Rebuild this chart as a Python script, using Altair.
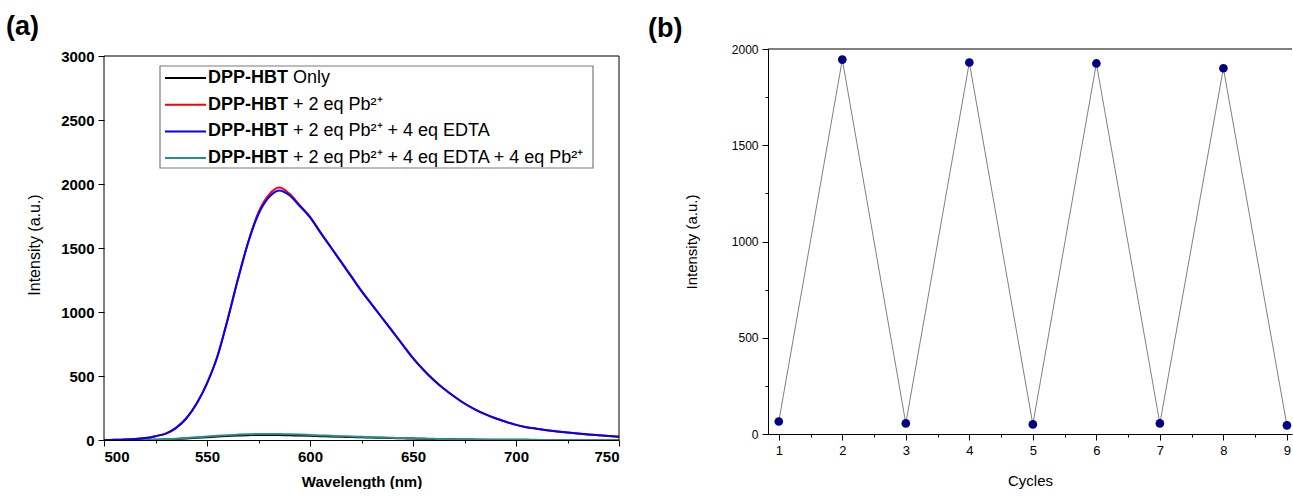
import altair as alt
import pandas as pd

FONT = "Liberation Sans"

# ---------------- data: panel (a) ----------------
wavelength = list(range(500, 751, 5))
only = [0, 0, 0, 0, 1, 2, 5, 8, 12, 17, 22, 27, 31, 35, 38, 40, 40, 39, 37, 35,
        33, 30, 27, 25, 23, 21, 19, 17, 15, 13, 11, 9, 7, 6, 5, 4, 3, 2, 2, 1,
        1, 1, 0, 0, 0, 0, 0, 0, 0, 0, 0]
pb = [0, 1, 3, 7, 15, 30, 50, 95, 170, 285, 443, 650, 940, 1255, 1545, 1780, 1915, 1972, 1925, 1835,
      1745, 1625, 1510, 1395, 1280, 1165, 1060, 955, 850, 745, 640, 550, 470, 400, 340, 285, 240, 202, 170, 142,
      118, 100, 88, 77, 67, 58, 50, 43, 37, 31, 26]
pb_edta = [0, 1, 3, 7, 15, 30, 50, 95, 170, 285, 443, 650, 940, 1255, 1545, 1765, 1895, 1950, 1912, 1828,
           1740, 1622, 1508, 1393, 1278, 1163, 1058, 953, 849, 744, 639, 549, 469, 400, 340, 285, 240, 202, 170, 142,
           118, 100, 88, 77, 67, 58, 50, 43, 37, 31, 26]
pb_edta_pb = [0, 0, 0, 0, 1, 3, 6, 10, 15, 21, 27, 33, 38, 42, 45, 47, 47, 46, 44, 42,
              39, 36, 33, 30, 28, 25, 22, 20, 18, 15, 13, 11, 9, 7, 6, 5, 4, 3, 2, 2,
              1, 1, 1, 0, 0, 0, 0, 0, 0, 0, 0]

series_names = ["DPP-HBT Only", "DPP-HBT + 2 eq Pb2+", "DPP-HBT + 2 eq Pb2+ + 4 eq EDTA",
                "DPP-HBT + 2 eq Pb2+ + 4 eq EDTA + 4 eq Pb2+"]
series_colors = ["#000000", "#ff0000", "#0000ff", "#2a8c88"]
series_values = [only, pb, pb_edta, pb_edta_pb]
draw_order = [0, 3, 1, 2]

legend_bold = ["DPP-HBT", "DPP-HBT", "DPP-HBT", "DPP-HBT"]
legend_rest = ["Only", "+ 2 eq Pb²⁺", "+ 2 eq Pb²⁺ + 4 eq EDTA", "+ 2 eq Pb²⁺ + 4 eq EDTA + 4 eq Pb²⁺"]

# ---------------- data: panel (b) ----------------
cycles = [1, 2, 3, 4, 5, 6, 7, 8, 9]
cycle_intensity = [65, 1945, 55, 1930, 50, 1925, 55, 1900, 45]

# ---------------- build tables ----------------
rows = []
for name, vals in zip(series_names, series_values):
    for w, v in zip(wavelength, vals):
        rows.append({"wl": w, "I": v, "series": name})
spec = pd.DataFrame(rows)
cyc = pd.DataFrame({"cycle": cycles, "I": cycle_intensity})

# panel (a) frame is 384 px tall for 0..3000; the group is 7 px taller so that
# panel (b) (whose frame starts 7 px higher) lines up as in the original figure
WA, HA_FRAME, EXTRA = 515, 384, 7
HA = HA_FRAME + EXTRA
YMAX_A = 3000
WB, HB = 524, 385

color_scale = alt.Scale(domain=series_names, range=series_colors)

xa = alt.X("wl:Q", scale=alt.Scale(domain=[500, 750], nice=False),
           axis=alt.Axis(values=list(range(500, 751, 25)), title="Wavelength (nm)",
                         labelExpr="datum.value % 50 == 0 ? datum.label : ''",
                         tickSize={"condition": {"test": "datum.value % 50 != 0", "value": 3}, "value": 6},
                         labelFontWeight="bold", labelFontSize=15, labelPadding=3,
                         titleFontWeight="bold", titleFontSize=15, titlePadding=10, grid=False))
ya = alt.Y("I:Q", scale=alt.Scale(domain=[0, YMAX_A * HA / HA_FRAME], nice=False),
           axis=alt.Axis(values=list(range(0, YMAX_A + 1, 250)), title="Intensity (a.u.)",
                         labelExpr="datum.value % 500 == 0 ? datum.label : ''",
                         tickSize={"condition": {"test": "datum.value % 500 != 0", "value": 3}, "value": 6},
                         format="d", labelFontWeight="bold", labelFontSize=15, labelPadding=4, domain=False,
                         titleFontWeight="normal", titleFontSize=16, titlePadding=18, grid=False))

layers_a = []
for k in draw_order:
    layers_a.append(
        alt.Chart(spec).transform_filter(alt.datum.series == series_names[k])
        .mark_line(strokeWidth=2, clip=True, interpolate="monotone")
        .encode(x=xa, y=ya, color=alt.Color("series:N", scale=color_scale, legend=None))
    )

dummy = pd.DataFrame({"d": [0]})
# frame of panel (a): left, right and top edges at the 3000 level
layers_a.append(alt.Chart(dummy).mark_rule(color="black", strokeWidth=1).encode(
    x=alt.value(0), y=alt.datum(0), y2=alt.datum(YMAX_A)))
layers_a.append(alt.Chart(dummy).mark_rule(color="black", strokeWidth=1).encode(
    x=alt.value(WA), y=alt.datum(0), y2=alt.datum(YMAX_A)))
layers_a.append(alt.Chart(dummy).mark_rule(color="black", strokeWidth=1).encode(
    x=alt.value(0), x2=alt.value(WA), y=alt.datum(YMAX_A)))

T = EXTRA
box = alt.Chart(dummy).mark_rect(fill="white", stroke="#7a7a7a", strokeWidth=1.2).encode(
    x=alt.value(56), x2=alt.value(489), y=alt.value(T + 10), y2=alt.value(T + 112))
layers_a.append(box)
for i in range(4):
    yy = T + 22 + i * 26.7
    layers_a.append(alt.Chart(dummy).mark_rule(strokeWidth=2, color=series_colors[i]).encode(
        x=alt.value(61), x2=alt.value(102), y=alt.value(yy)))
    layers_a.append(alt.Chart(dummy).mark_text(align="left", baseline="middle", fontWeight="bold",
                                              fontSize=18, font=FONT, color="black").encode(
        x=alt.value(104), y=alt.value(yy), text=alt.value(legend_bold[i])))
    layers_a.append(alt.Chart(dummy).mark_text(align="left", baseline="middle",
                                              fontSize=18, font=FONT, color="black").encode(
        x=alt.value(189), y=alt.value(yy), text=alt.value(legend_rest[i])))

panel_a = alt.layer(*layers_a).properties(
    width=WA, height=HA,
    view=alt.ViewBackground(strokeOpacity=0),
    title=alt.TitleParams("(a)", anchor="start", frame="group", fontSize=27, fontWeight="bold",
                          font=FONT, dx=-98, offset=8),
)

xb = alt.X("cycle:Q", scale=alt.Scale(domain=[0.83, 9.08], nice=False, zero=False),
           axis=alt.Axis(values=[v / 2 for v in range(2, 19)], title="Cycles",
                         labelExpr="datum.value % 1 == 0 ? format(datum.value, 'd') : ''",
                         tickSize={"condition": {"test": "datum.value % 1 != 0", "value": 3}, "value": 6},
                         labelFontSize=13, labelPadding=4, titleFontSize=15, titleFontWeight="normal",
                         titlePadding=16, grid=False))
yb = alt.Y("I:Q", scale=alt.Scale(domain=[0, 2000], nice=False),
           axis=alt.Axis(values=list(range(0, 2001, 250)), title="Intensity (a.u.)",
                         labelExpr="datum.value % 500 == 0 ? datum.label : ''",
                         tickSize={"condition": {"test": "datum.value % 500 != 0", "value": 3}, "value": 6},
                         format="d", labelFontSize=12, labelPadding=4,
                         titleFontSize=15, titleFontWeight="normal", titlePadding=32, grid=False))

line_b = alt.Chart(cyc).mark_line(color="#808080", strokeWidth=1).encode(x=xb, y=yb)
pts_b = alt.Chart(cyc).mark_circle(size=75, color="#000080", opacity=1).encode(x=xb, y=yb)
top_b = alt.Chart(dummy).mark_rule(color="black", strokeWidth=1).encode(
    x=alt.value(0), x2=alt.value(WB), y=alt.value(0))

panel_b = alt.layer(line_b, pts_b, top_b).properties(
    width=WB, height=HB,
    view=alt.ViewBackground(strokeOpacity=0),
    title=alt.TitleParams("(b)", anchor="start", frame="group", fontSize=27, fontWeight="bold",
                          font=FONT, dx=-120, offset=0),
)

chart = alt.hconcat(panel_a, panel_b, spacing=28).properties(
    padding={"left": 6, "top": 12, "right": 0, "bottom": 0},
    background="white",
).configure_axis(
    labelFont=FONT, titleFont=FONT, labelColor="black", titleColor="black",
    domainColor="black", tickColor="black", domainWidth=1, tickWidth=1,
).configure_view(stroke="transparent")

chart.save("out.html", embed_options={"renderer": "svg", "actions": False})
